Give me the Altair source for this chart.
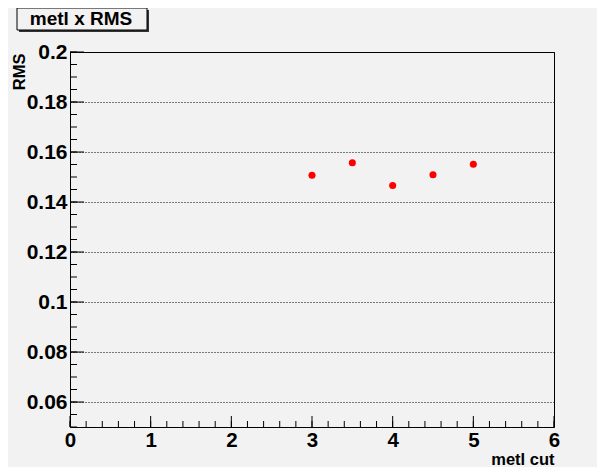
import altair as alt
import pandas as pd

# data
cuts = [3.0, 3.5, 4.0, 4.5, 5.0]
rms = [0.1507, 0.1557, 0.1466, 0.1509, 0.1551]

x_major = [0, 1, 2, 3, 4, 5, 6]
x_minor = [round(i * 0.2, 2) for i in range(31)]
y_major = [0.06, 0.08, 0.1, 0.12, 0.14, 0.16, 0.18, 0.2]
y_minor = [round(0.05 + i * 0.005, 3) for i in range(31)]

title_text = "metl x RMS"
x_title = "metl cut"
y_title = "RMS"

W, H = 484, 375
FONT = "Liberation Sans"

xs = alt.Scale(domain=[0, 6], nice=False)
ys = alt.Scale(domain=[0.05, 0.2], nice=False, zero=False)

pts = pd.DataFrame({"cut": cuts, "rms": rms})

base_axes = alt.Chart(pts).mark_point(opacity=0).encode(
    x=alt.X("cut:Q", scale=xs, axis=alt.Axis(
        values=x_major, format="d", title=x_title, grid=False, ticks=False,
        labelFlush=False, labelOverlap=False,
        domainColor="black", domainWidth=1, labelFont=FONT, labelFontSize=20.5,
        labelFontWeight="bold", labelColor="black", labelPadding=3,
        titleFont=FONT, titleFontSize=16.5, titleFontWeight="bold", titleColor="black",
        titleAnchor="end", titleAlign="right", titleX=W, titleY=37,
        titleBaseline="alphabetic")),
    y=alt.Y("rms:Q", scale=ys, axis=alt.Axis(
        values=y_major, format=".2~f", title=y_title, grid=True, ticks=False,
        labelFlush=False, labelOverlap=False,
        gridColor="black", gridDash=[1, 2], gridWidth=1, gridOpacity=1,
        domainColor="black", domainWidth=1, labelFont=FONT, labelFontSize=21,
        labelFontWeight="bold", labelColor="black", labelPadding=3,
        titleFont=FONT, titleFontSize=16.5, titleFontWeight="bold", titleColor="black",
        titleAngle=270, titleAlign="right", titleBaseline="middle",
        titleX=-51, titleY=1)),
)

xmaj = alt.Chart(pd.DataFrame({"v": x_major})).mark_rule(color="black", strokeWidth=1).encode(
    x=alt.X("v:Q", scale=xs), y=alt.value(H), y2=alt.value(H - 11))
xmin = alt.Chart(pd.DataFrame({"v": x_minor})).mark_rule(color="black", strokeWidth=1).encode(
    x=alt.X("v:Q", scale=xs), y=alt.value(H), y2=alt.value(H - 6))
ymaj = alt.Chart(pd.DataFrame({"v": y_major})).mark_rule(color="black", strokeWidth=1).encode(
    y=alt.Y("v:Q", scale=ys), x=alt.value(0), x2=alt.value(14))
ymin = alt.Chart(pd.DataFrame({"v": y_minor})).mark_rule(color="black", strokeWidth=1).encode(
    y=alt.Y("v:Q", scale=ys), x=alt.value(0), x2=alt.value(7))

points = alt.Chart(pts).mark_circle(color="#ff0000", opacity=1, size=50).encode(
    x=alt.X("cut:Q", scale=xs), y=alt.Y("rms:Q", scale=ys))

one = pd.DataFrame({"a": [0]})
shadow = alt.Chart(one).mark_rect(color="#333333").encode(
    x=alt.value(-51), x2=alt.value(79), y=alt.value(-42), y2=alt.value(-20))
box = alt.Chart(one).mark_rect(fill="#f2f2f2", stroke="black", strokeWidth=1).encode(
    x=alt.value(-53), x2=alt.value(77), y=alt.value(-44), y2=alt.value(-22))
ttext = alt.Chart(one).mark_text(
    text=title_text, font=FONT, fontSize=19, fontWeight="bold", color="black",
    align="center", baseline="alphabetic").encode(x=alt.value(11), y=alt.value(-27))

chart = alt.layer(base_axes, xmin, xmaj, ymin, ymaj, points, shadow, box, ttext).properties(
    width=W, height=H,
    autosize=alt.AutoSizeParams(type="none"),
    padding={"left": 62, "top": 44, "right": 43, "bottom": 40},
    background="#f2f2f2",
).configure_view(stroke="black", strokeWidth=1)

chart.save("out.html", embed_options={"renderer": "svg", "actions": False})
